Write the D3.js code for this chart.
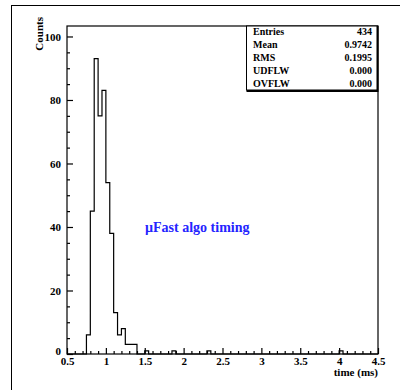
<!DOCTYPE html>
<html><head><meta charset="utf-8">
<script src="https://cdn.jsdelivr.net/npm/d3@7"></script>
<style>body{margin:0;background:#fff}svg{display:block}text{font-family:"Liberation Serif","DejaVu Serif",serif;font-weight:bold}</style>
</head><body>
<script>
// Histogram data: bin width 0.05 ms, range 0.5–4.5 ms (non-empty bins listed)
const binLowEdges = [0.75, 0.80, 0.85, 0.90, 0.95, 1.00, 1.05, 1.10, 1.15, 1.20, 1.25, 1.30, 1.35, 1.50, 1.85, 2.30, 4.00];
const binCounts   = [6,    45,   93,   75,   83,   54,   38,   13,   6,    8,    3,    3,    3,    1,    1,    1,    1];
const yTicks = [0, 20, 40, 60, 80, 100];
const xTicks = [0.5, 1, 1.5, 2, 2.5, 3, 3.5, 4, 4.5];
const statLabels = ["Entries", "Mean", "RMS", "UDFLW", "OVFLW"];
const statValues = ["434", "0.9742", "0.1995", "0.000", "0.000"];
const xRange = [0.5, 4.5], binWidth = 0.05;

const W = 400, H = 390;
const svg = d3.select("body").append("svg").attr("width", W).attr("height", H);
svg.append("rect").attr("x", 11.5).attr("y", 5.5).attr("width", 420).attr("height", 420)
  .attr("fill", "none").attr("stroke", "#000").attr("stroke-width", 1);

const x = d3.scaleLinear().domain(xRange).range([67, 378]);
const y = d3.scaleLinear().domain([0, 103.3]).range([354, 26]);

// full bin list
const nBins = Math.round((xRange[1] - xRange[0]) / binWidth);
const bins = d3.range(nBins).map(i => {
  const lo = +(xRange[0] + i * binWidth).toFixed(2);
  const k = binLowEdges.findIndex(e => Math.abs(e - lo) < 1e-6);
  return {lo, c: k >= 0 ? binCounts[k] : 0};
});
const pts = bins.map(b => [b.lo, b.c]);
pts.push([xRange[1], 0]);
const line = d3.line().x(d => x(d[0])).y(d => y(d[1])).curve(d3.curveStepAfter);
svg.append("path").attr("d", line(pts)).attr("fill", "none").attr("stroke", "#000").attr("stroke-width", 1.2);

// frame
svg.append("rect").attr("x", 67).attr("y", 26).attr("width", 311).attr("height", 328)
  .attr("fill", "none").attr("stroke", "#000").attr("stroke-width", 1.2);

// y axis
const yAx = svg.append("g").attr("transform", "translate(67,0)")
  .call(d3.axisLeft(y).tickValues(yTicks).tickSize(-6).tickPadding(6).tickFormat(d3.format("d")));
svg.append("g").attr("transform", "translate(67,0)")
  .call(d3.axisLeft(y).tickValues(d3.range(0, 101, 5).filter(v => v % 20)).tickSize(-3).tickFormat(""));
// x axis
const xAx = svg.append("g").attr("transform", "translate(0,354)")
  .call(d3.axisBottom(x).tickValues(xTicks).tickSize(-6).tickPadding(3).tickFormat(d => d3.format("")(d)));
svg.append("g").attr("transform", "translate(0,354)")
  .call(d3.axisBottom(x).tickValues(d3.range(5, 45).map(v => v / 10).filter(v => Math.abs(v * 2 - Math.round(v * 2)) > 1e-6)).tickSize(-3).tickFormat(""));
svg.selectAll(".domain").remove();
svg.selectAll(".tick line").attr("stroke", "#000").attr("stroke-width", 1.2);
svg.selectAll(".tick text").attr("font-size", 11).attr("fill", "#000")
  .style("font-family", "'Liberation Serif',serif").style("font-weight", "bold");
yAx.selectAll(".tick text").filter(d => d === 0).attr("dy", "0.0em");

// axis titles
svg.append("text").attr("transform", "translate(43,17) rotate(-90)").attr("text-anchor", "end")
  .attr("font-size", 11).text("Counts");
svg.append("text").attr("x", 378).attr("y", 376).attr("text-anchor", "end")
  .attr("font-size", 11).text("time (ms)");

// stats box
const bx0 = 246, bx1 = 377, by0 = 26, by1 = 90;
svg.append("rect").attr("x", bx0 + 0.5).attr("y", by0).attr("width", bx1 - bx0).attr("height", by1 - by0)
  .attr("fill", "#fff").attr("stroke", "#000").attr("stroke-width", 1);
svg.append("path").attr("d", `M${bx1 + 0.5},${by0} V${by1 + 1} H${bx0 + 0.5}`)
  .attr("fill", "none").attr("stroke", "#000").attr("stroke-width", 2);
const rowY = d3.scalePoint().domain(statLabels).range([35, 87]);
svg.selectAll(".sl").data(statLabels).enter().append("text")
  .attr("x", 253).attr("y", d => rowY(d)).attr("font-size", 10).text(d => d);
svg.selectAll(".sv").data(statValues).enter().append("text")
  .attr("x", 372).attr("y", (d, i) => rowY(statLabels[i])).attr("text-anchor", "end").attr("font-size", 10).text(d => d);

// annotation
svg.append("text").attr("x", 145).attr("y", 232).attr("font-size", 14).attr("fill", "#2424ff").text("\u00b5Fast algo timing");
</script>
</body></html>
